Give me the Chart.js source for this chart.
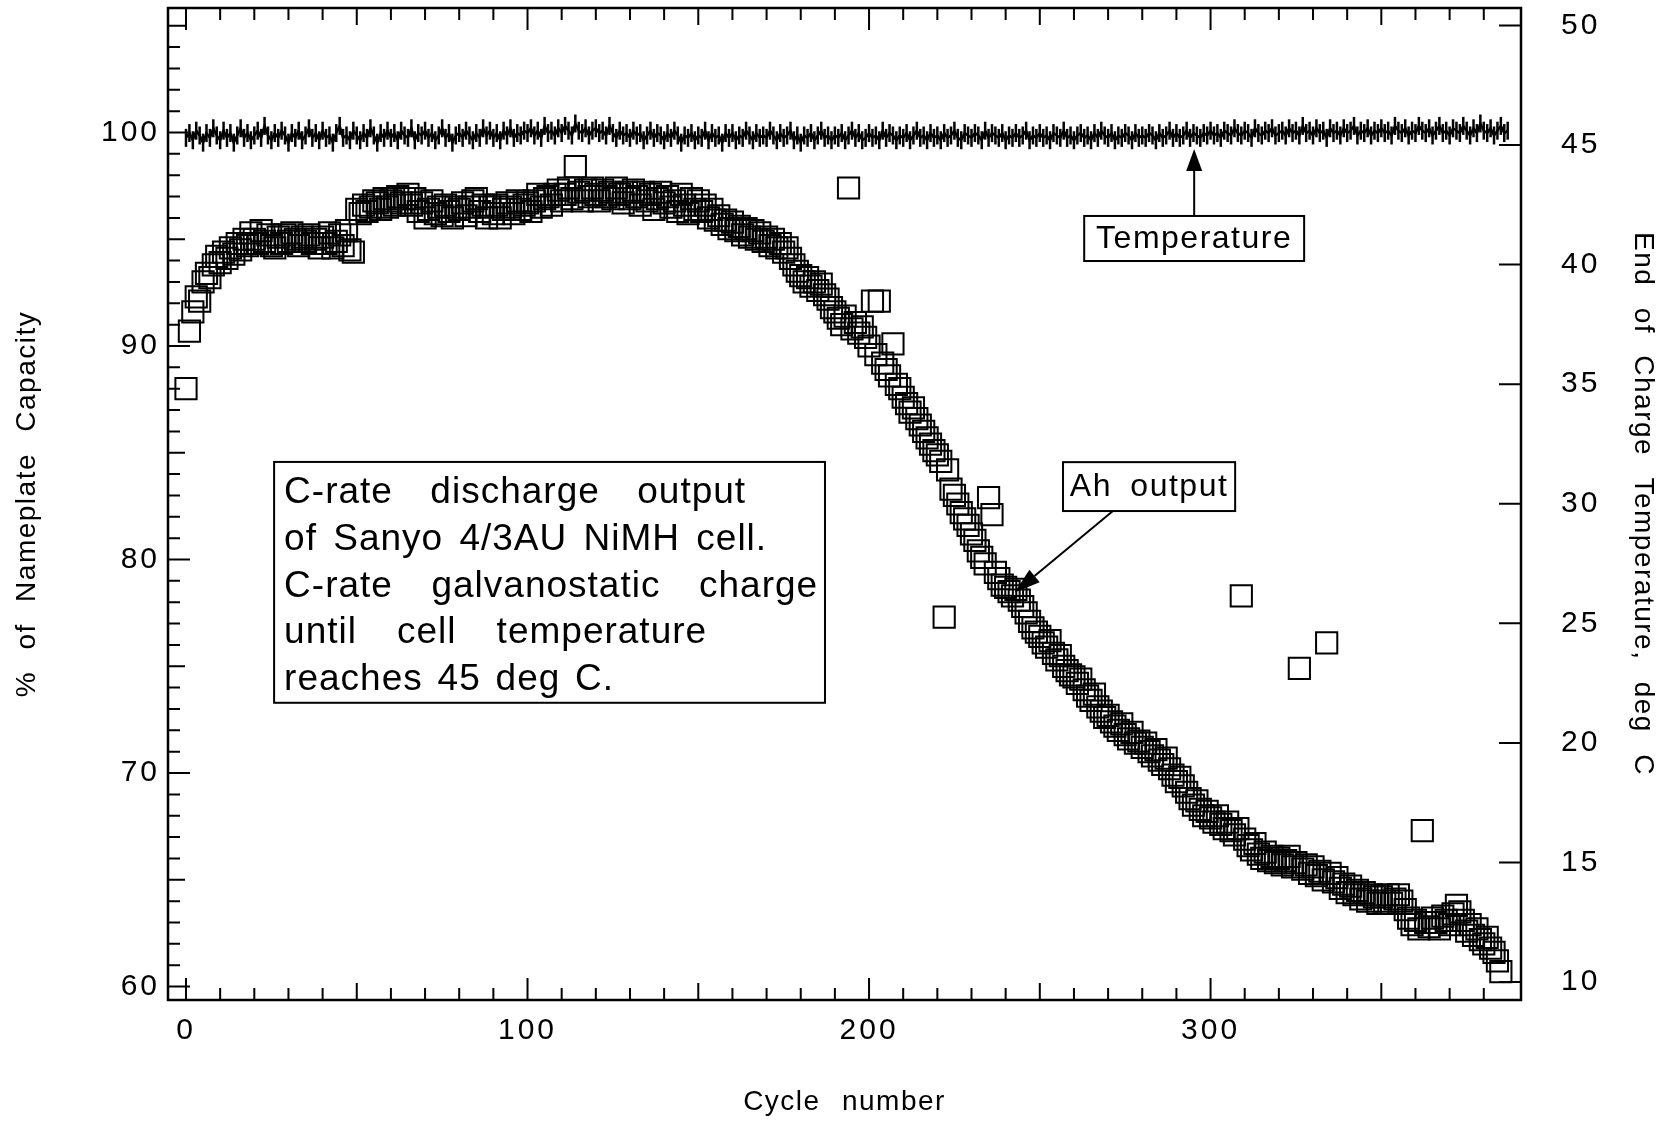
<!DOCTYPE html>
<html lang="en">
<head>
<meta charset="UTF-8">
<title>Sanyo 4/3AU NiMH cycle life</title>
<script src="https://cdn.jsdelivr.net/npm/chart.js@4"></script>
<style>
  html, body { margin: 0; padding: 0; background: #fff; }
  #wrap { width: 1665px; height: 1122px; }
</style>
</head>
<body>
<div id="wrap"><canvas id="cycleChart" width="1665" height="1122"></canvas></div>
<script>
// % of nameplate capacity, one reading per cycle, starting at cycle 0
const capacityPct = [
  88.0, 90.7, 91.6, 92.3, 92.1, 93.0, 93.4, 93.2, 93.8, 94.2,
  93.9, 94.4, 94.1, 94.6, 94.3, 94.8, 94.5, 95.0, 94.7, 95.3,
  95.0, 94.8, 95.4, 94.9, 95.2, 94.7, 94.6, 95.1, 94.8, 95.2,
  94.9, 95.3, 95.0, 94.7, 95.1, 94.9, 95.2, 94.8, 95.0, 94.6,
  95.1, 94.8, 95.3, 94.6, 94.9, 95.2, 94.7, 95.4, 94.5, 94.4,
  96.4, 96.2, 96.6, 96.3, 96.5, 96.8, 96.7, 96.4, 96.9, 96.5,
  96.8, 96.6, 97.0, 96.7, 96.9, 97.1, 96.6, 96.9, 96.3, 96.7,
  96.0, 96.4, 96.8, 96.2, 96.5, 96.1, 96.6, 96.3, 96.0, 96.5,
  96.4, 96.7, 96.1, 96.5, 96.8, 96.9, 96.3, 96.6, 96.0, 96.5,
  96.2, 96.6, 96.0, 96.4, 96.7, 96.5, 96.2, 96.8, 96.4, 96.6,
  96.7, 96.3, 96.8, 97.1, 96.5, 96.9, 97.0, 96.6, 97.1, 97.3,
  96.8, 97.1, 97.4, 96.9, 98.4, 97.2, 96.8, 97.3, 97.0, 97.4,
  97.1, 96.8, 97.3, 97.0, 97.2, 96.9, 97.4, 97.1, 96.7, 97.2,
  96.9, 97.3, 97.0, 96.6, 97.2, 96.8, 97.1, 96.4, 96.9, 97.2,
  96.7, 97.0, 96.5, 96.8, 96.3, 97.1, 96.6, 96.2, 96.9, 96.4,
  96.8, 96.3, 96.6, 96.0, 96.4, 95.9, 96.1, 95.7, 95.9, 95.5,
  95.8, 95.4, 95.6, 95.2, 95.5, 95.1, 95.4, 95.0, 95.3, 94.9,
  95.1, 94.7, 95.0, 94.6, 94.8, 94.4, 94.6, 94.1, 93.8, 93.5,
  93.3, 93.0, 93.2, 92.8, 93.0, 92.6, 92.9, 92.4, 92.2, 91.8,
  91.6, 91.3, 91.0, 91.4, 97.4, 90.8, 91.1, 90.6, 90.9, 90.4,
  90.0, 92.1, 89.6, 92.1, 89.2, 88.9, 88.6, 90.1, 88.2, 88.0,
  87.6, 87.3, 86.9, 87.1, 86.6, 86.3, 86.0, 85.7, 85.4, 85.1,
  84.9, 84.6, 77.3, 84.2, 83.3, 83.0, 82.6, 82.2, 81.9, 81.6,
  81.2, 80.9, 80.4, 80.1, 79.8, 82.9, 82.1, 79.4, 79.1, 78.8,
  78.7, 78.5, 78.3, 78.6, 78.1, 77.8, 77.5, 77.1, 76.8, 76.6,
  76.4, 76.1, 75.9, 76.2, 75.6, 75.3, 75.5, 75.0, 74.8, 74.6,
  74.5, 74.2, 74.4, 73.9, 73.6, 73.4, 73.7, 73.1, 72.9, 72.6,
  72.7, 72.4, 72.2, 72.0, 72.3, 71.8, 71.6, 71.9, 71.4, 71.5,
  71.2, 71.4, 71.0, 70.8, 71.1, 70.6, 70.4, 70.7, 70.2, 69.9,
  69.6, 69.8, 69.4, 69.1, 68.8, 68.5, 68.7, 68.3, 68.0, 68.2,
  67.9, 67.7, 68.0, 67.6, 67.4, 67.7, 67.3, 67.1, 67.4, 78.3,
  66.9, 66.6, 66.4, 66.7, 66.2, 66.0, 66.3, 65.9, 66.1, 65.8,
  66.0, 65.7, 65.9, 66.1, 65.6, 65.8, 74.9, 65.5, 65.7, 65.3,
  65.6, 65.2, 65.4, 65.0, 76.1, 65.3, 64.9, 65.1, 64.6, 64.8,
  64.4, 64.7, 64.3, 64.5, 64.1, 64.4, 64.0, 64.3, 64.2, 63.9,
  64.2, 64.0, 64.3, 63.9, 64.1, 64.3, 64.0, 63.6, 63.2, 62.9,
  63.1, 62.7, 67.3, 63.0, 62.8, 63.2, 63.0, 62.7, 63.3, 63.1,
  62.9, 63.4, 63.8, 63.5, 63.1, 62.6, 62.9, 62.4, 62.7, 62.2,
  62.0, 62.3, 61.8, 61.6, 61.2, 60.7
];

// end of charge temperature, deg C, one reading per cycle, starting at cycle 0
const endTempC = [
  45.3, 45.5, 45.2, 45.6, 45.4, 45.1, 45.5, 45.3, 45.7, 45.4,
  45.2, 45.6, 45.3, 45.5, 45.1, 45.4, 45.7, 45.3, 45.5, 45.2,
  45.4, 45.6, 45.3, 45.8, 45.4, 45.2, 45.5, 45.3, 45.6, 45.4,
  45.1, 45.5, 45.3, 45.6, 45.2, 45.4, 45.7, 45.3, 45.5, 45.2,
  45.6, 45.3, 45.4, 45.1, 45.5, 45.8, 45.3, 45.4, 45.2, 45.6,
  45.4, 45.2, 45.5, 45.3, 45.7, 45.4, 45.1, 45.5, 45.3, 45.6,
  45.3, 45.5, 45.2, 45.6, 45.4, 45.3, 45.7, 45.2, 45.5, 45.4,
  45.6, 45.3, 45.5, 45.2, 45.4, 45.7, 45.3, 45.5, 45.1, 45.4,
  45.5, 45.3, 45.6, 45.4, 45.2, 45.5, 45.3, 45.7, 45.4, 45.6,
  45.3, 45.5, 45.2, 45.6, 45.4, 45.7, 45.3, 45.5, 45.4, 45.6,
  45.5, 45.7, 45.4, 45.6, 45.3, 45.8, 45.5, 45.6, 45.4, 45.7,
  45.5, 45.8, 45.6, 45.4, 45.9, 45.6, 45.5, 45.7, 45.4, 45.6,
  45.7, 45.5, 45.6, 45.4, 45.8, 45.5, 45.3, 45.6, 45.4, 45.5,
  45.3, 45.6, 45.4, 45.5, 45.2, 45.4, 45.6, 45.3, 45.5, 45.4,
  45.2, 45.5, 45.3, 45.6, 45.4, 45.1, 45.4, 45.3, 45.5, 45.2,
  45.4, 45.3, 45.6, 45.2, 45.5, 45.3, 45.4, 45.1, 45.5, 45.3,
  45.5, 45.2, 45.4, 45.3, 45.6, 45.4, 45.2, 45.5, 45.3, 45.4,
  45.3, 45.6, 45.4, 45.2, 45.5, 45.3, 45.4, 45.6, 45.2, 45.4,
  45.1, 45.4, 45.3, 45.5, 45.2, 45.4, 45.6, 45.3, 45.4, 45.2,
  45.4, 45.3, 45.5, 45.2, 45.4, 45.6, 45.3, 45.5, 45.2, 45.3,
  45.5, 45.3, 45.4, 45.2, 45.6, 45.3, 45.5, 45.4, 45.2, 45.4,
  45.3, 45.5, 45.2, 45.4, 45.6, 45.3, 45.4, 45.2, 45.5, 45.3,
  45.4, 45.2, 45.5, 45.3, 45.4, 45.6, 45.3, 45.2, 45.5, 45.4,
  45.3, 45.5, 45.4, 45.2, 45.6, 45.3, 45.5, 45.4, 45.3, 45.5,
  45.2, 45.4, 45.3, 45.5, 45.3, 45.4, 45.6, 45.2, 45.4, 45.3,
  45.5, 45.3, 45.4, 45.2, 45.5, 45.4, 45.3, 45.6, 45.3, 45.4,
  45.2, 45.4, 45.5, 45.3, 45.4, 45.2, 45.5, 45.3, 45.6, 45.4,
  45.3, 45.5, 45.2, 45.4, 45.3, 45.5, 45.4, 45.2, 45.5, 45.3,
  45.4, 45.3, 45.5, 45.4, 45.2, 45.5, 45.3, 45.4, 45.6, 45.3,
  45.5, 45.3, 45.4, 45.6, 45.3, 45.5, 45.4, 45.3, 45.5, 45.4,
  45.6, 45.4, 45.5, 45.3, 45.6, 45.5, 45.4, 45.7, 45.5, 45.4,
  45.6, 45.5, 45.3, 45.7, 45.5, 45.4, 45.6, 45.5, 45.7, 45.4,
  45.5, 45.6, 45.4, 45.7, 45.5, 45.6, 45.4, 45.8, 45.5, 45.6,
  45.4, 45.7, 45.5, 45.6, 45.3, 45.7, 45.5, 45.6, 45.4, 45.7,
  45.5, 45.6, 45.8, 45.4, 45.6, 45.5, 45.7, 45.4, 45.6, 45.5,
  45.7, 45.5, 45.6, 45.4, 45.8, 45.6, 45.5, 45.7, 45.4, 45.6,
  45.5, 45.8, 45.6, 45.5, 45.7, 45.4, 45.6, 45.8, 45.5, 45.6,
  45.4, 45.7, 45.6, 45.5, 45.8, 45.6, 45.4, 45.7, 45.5, 45.9,
  45.6, 45.5, 45.7, 45.4, 45.6, 45.8, 45.5, 45.6
];

const cycleTicks = [0, 100, 200, 300];
const capacityTicks = [60, 70, 80, 90, 100];
const tempTicks = [10, 15, 20, 25, 30, 35, 40, 45, 50];

// callout text; width = how wide each line is set (words spread to fill it)
const noteLines = [
  { text: 'C-rate discharge output', width: 462 },
  { text: 'of Sanyo 4/3AU NiMH cell.', width: 483 },
  { text: 'C-rate galvanostatic charge', width: 534 },
  { text: 'until cell temperature', width: 423 },
  { text: 'reaches 45 deg C.', width: 330 }
];

const FONT = '"Liberation Sans", Arial, Helvetica, sans-serif';
Chart.defaults.font.family = FONT;
Chart.defaults.color = '#000';

function fixedTicks(values) {
  return scale => { scale.ticks = values.map(v => ({ value: v })); };
}

function noEdgePadding(size, key) {
  return s => {
    s[key] = size;
    s.paddingTop = s.paddingBottom = s.paddingLeft = s.paddingRight = 0;
  };
}

// tick numbers are set wide; axis titles a little tighter with open word gaps
function labelSpacing(ctx) {
  ctx.letterSpacing = '3px';
  ctx.wordSpacing = '0px';
}

function spaceTitles(chart) {
  Object.values(chart.scales).forEach(scale => {
    if (scale._titlePatched) return;
    const orig = scale.drawTitle;
    scale.drawTitle = function () {
      const ctx = this.ctx;
      ctx.letterSpacing = '1.5px';
      ctx.wordSpacing = '12px';
      orig.call(this);
      labelSpacing(ctx);
    };
    scale._titlePatched = true;
  });
}

// closed frame plus inward tick marks on all four sides
const frame = {
  id: 'frame',
  beforeLayout(chart) { labelSpacing(chart.ctx); },
  beforeDraw(chart) { labelSpacing(chart.ctx); spaceTitles(chart); },
  afterDatasetsDraw(chart) {
    const { ctx, chartArea: a, scales: { x, y, y2 } } = chart;
    ctx.save();
    ctx.strokeStyle = '#000';
    ctx.lineWidth = 2.5;
    ctx.strokeRect(a.left, a.top, a.right - a.left, a.bottom - a.top);
    ctx.lineWidth = 2;
    ctx.beginPath();
    for (let v = 0; v <= 380; v += 10) {
      const px = x.getPixelForValue(v);
      const len = v % 100 === 0 ? 22 : v % 50 === 0 ? 17 : 12;
      ctx.moveTo(px, a.bottom); ctx.lineTo(px, a.bottom - len);
      ctx.moveTo(px, a.top); ctx.lineTo(px, a.top + len);
    }
    for (let v = 60; v <= 105; v += 1) {
      const py = y.getPixelForValue(v);
      const len = v % 10 === 0 ? 22 : v % 5 === 0 ? 17 : 12;
      ctx.moveTo(a.left, py); ctx.lineTo(a.left + len, py);
    }
    for (const v of tempTicks) {
      const py = y2.getPixelForValue(v);
      ctx.moveTo(a.right, py); ctx.lineTo(a.right - 22, py);
    }
    ctx.stroke();
    ctx.restore();
  }
};

function box(ctx, x0, y0, x1, y1) {
  ctx.fillStyle = '#fff';
  ctx.fillRect(x0, y0, x1 - x0, y1 - y0);
  ctx.strokeRect(x0, y0, x1 - x0, y1 - y0);
}

function arrow(ctx, x0, y0, x1, y1, head, half) {
  const ang = Math.atan2(y1 - y0, x1 - x0);
  const bx = x1 - head * Math.cos(ang), by = y1 - head * Math.sin(ang);
  ctx.beginPath();
  ctx.moveTo(x0, y0); ctx.lineTo(bx, by);
  ctx.stroke();
  ctx.beginPath();
  ctx.moveTo(x1, y1);
  ctx.lineTo(bx + half * Math.sin(ang), by - half * Math.cos(ang));
  ctx.lineTo(bx - half * Math.sin(ang), by + half * Math.cos(ang));
  ctx.closePath();
  ctx.fill();
}

// callouts, placed in cycle / % coordinates
const callouts = {
  id: 'callouts',
  afterDraw(chart) {
    const { ctx, scales: { x, y } } = chart;
    ctx.save();
    ctx.letterSpacing = '1px';
    ctx.wordSpacing = '0px';
    ctx.strokeStyle = '#000';
    ctx.lineWidth = 2;
    ctx.textBaseline = 'middle';

    // description box
    const L = x.getPixelForValue(25.8), R = x.getPixelForValue(187.1);
    const T = y.getPixelForValue(84.57), B = y.getPixelForValue(73.29);
    box(ctx, L, T, R, B);
    ctx.fillStyle = '#000';
    ctx.font = '37px ' + FONT;
    noteLines.forEach((ln, i) => {
      const words = ln.text.split(' ');
      const used = words.reduce((s, w) => s + ctx.measureText(w).width, 0);
      const gap = (ln.width - used) / (words.length - 1);
      let cx = L + 10;
      const cy = T + 31 + i * 46.7;
      for (const w of words) {
        ctx.fillText(w, cx, cy);
        cx += ctx.measureText(w).width + gap;
      }
    });

    // Temperature label with arrow up to the trace
    ctx.font = '32px ' + FONT;
    ctx.letterSpacing = '1.5px';
    const tL = x.getPixelForValue(263), tR = x.getPixelForValue(327.4);
    const tT = y.getPixelForValue(96.09), tB = y.getPixelForValue(93.98);
    const tX = x.getPixelForValue(295.2);
    arrow(ctx, tX, tT, tX, y.getPixelForValue(99.23), 22, 8);
    box(ctx, tL, tT, tR, tB);
    ctx.fillStyle = '#000';
    ctx.textAlign = 'center';
    ctx.fillText('Temperature', (tL + tR) / 2, (tT + tB) / 2 + 1);

    // Ah output label with arrow down to the capacity curve
    const aL = x.getPixelForValue(256.8), aR = x.getPixelForValue(307.2);
    const aT = y.getPixelForValue(84.56), aB = y.getPixelForValue(82.27);
    arrow(ctx, x.getPixelForValue(271.4), aB, x.getPixelForValue(242.6), y.getPixelForValue(78.45), 26, 8);
    box(ctx, aL, aT, aR, aB);
    ctx.fillStyle = '#000';
    ctx.wordSpacing = '8px';
    ctx.fillText('Ah output', (aL + aR) / 2, (aT + aB) / 2 + 1);
    ctx.restore();
  }
};

new Chart(document.getElementById('cycleChart'), {
  type: 'scatter',
  data: {
    datasets: [
      {
        label: 'Temperature',
        type: 'line',
        yAxisID: 'y2',
        data: endTempC.map((t, i) => ({ x: i, y: t })),
        borderColor: '#000',
        borderWidth: 2.5,
        pointStyle: 'line',
        rotation: 90,
        pointRadius: 9,
        pointBorderWidth: 2.5,
        pointBorderColor: '#000',
        tension: 0
      },
      {
        label: 'Ah output',
        yAxisID: 'y',
        data: capacityPct.map((c, i) => ({ x: i, y: c })),
        pointStyle: 'rect',
        pointRadius: 15,
        borderWidth: 2,
        borderColor: '#000',
        backgroundColor: 'rgba(0,0,0,0)'
      }
    ]
  },
  options: {
    responsive: false,
    devicePixelRatio: 1,
    animation: false,
    events: [],
    layout: { padding: { top: 8, left: 0, right: 0, bottom: 0 }, autoPadding: false },
    plugins: { legend: { display: false }, tooltip: { enabled: false } },
    scales: {
      x: {
        type: 'linear',
        min: -5.27,
        max: 390.9,
        grid: { display: false, drawTicks: false },
        border: { display: false },
        afterBuildTicks: fixedTicks(cycleTicks),
        afterFit: noEdgePadding(122, 'height'),
        ticks: { padding: 13, font: { size: 30 }, maxRotation: 0 },
        title: { display: true, text: 'Cycle number', font: { size: 28, lineHeight: 1.2 }, padding: { top: 0, bottom: 3 } }
      },
      y: {
        position: 'left',
        min: 59.37,
        max: 105.83,
        grid: { display: false, drawTicks: false },
        border: { display: false },
        afterBuildTicks: fixedTicks(capacityTicks),
        afterFit: noEdgePadding(168, 'width'),
        ticks: { padding: 8, font: { size: 30 } },
        title: { display: true, text: '% of Nameplate Capacity', font: { size: 28, lineHeight: 1.2 }, padding: { top: 10, bottom: 0 } }
      },
      y2: {
        position: 'right',
        min: 9.25,
        max: 50.73,
        grid: { display: false, drawTicks: false },
        border: { display: false },
        afterBuildTicks: fixedTicks(tempTicks),
        afterFit: noEdgePadding(144, 'width'),
        ticks: { padding: 40, font: { size: 30 } },
        title: { display: true, text: 'End of Charge Temperature, deg C', font: { size: 28, lineHeight: 1.2 }, padding: { top: 5, bottom: 0 } }
      }
    }
  },
  plugins: [frame, callouts]
});
</script>
</body>
</html>
